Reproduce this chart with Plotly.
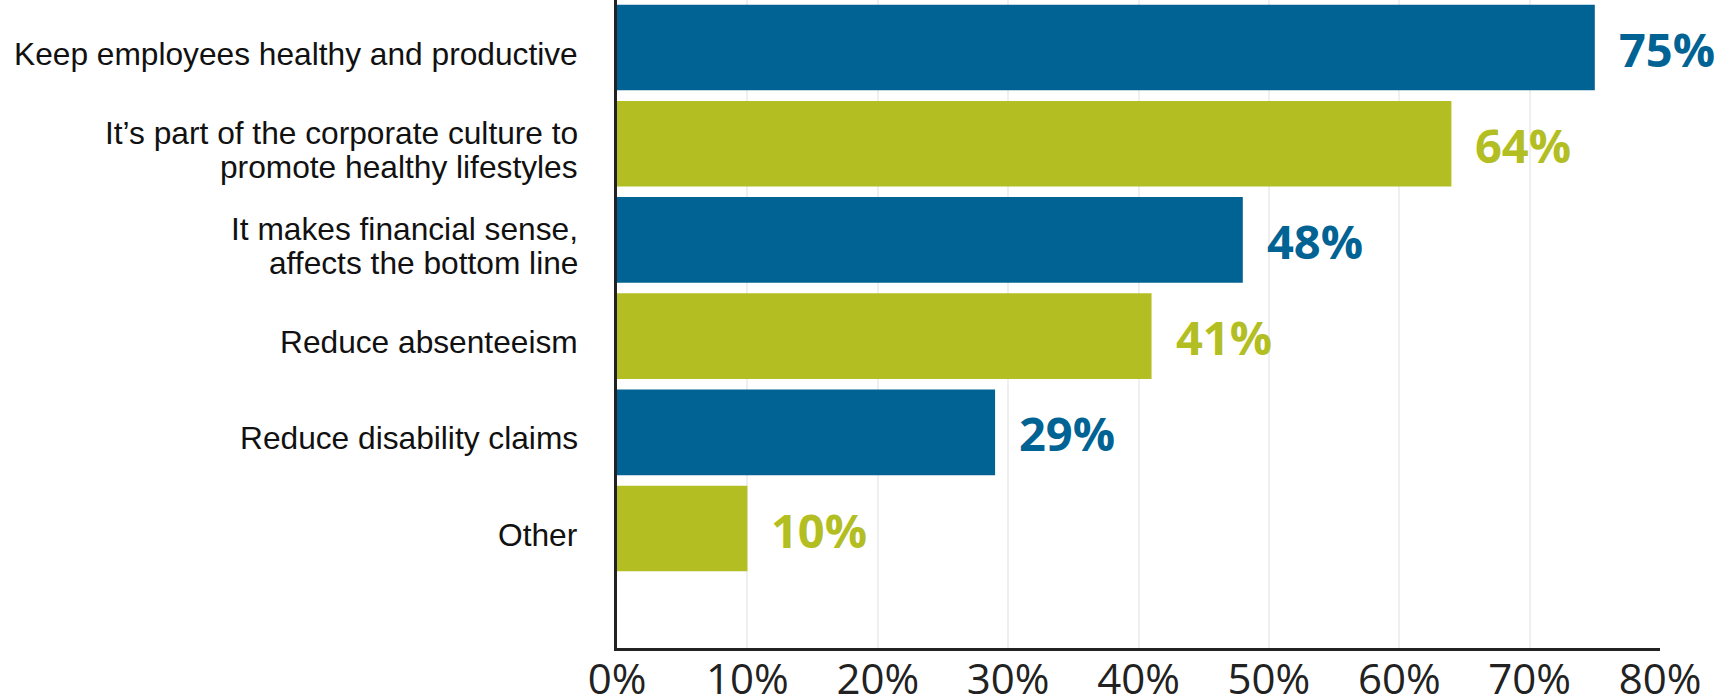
import plotly.graph_objects as go

# Survey responses: reasons for offering wellness programs
categories = [
    "Keep employees healthy and productive",
    "It’s part of the corporate culture to<br>promote healthy lifestyles",
    "It makes financial sense,<br>affects the bottom line",
    "Reduce absenteeism",
    "Reduce disability claims",
    "Other",
]
values = [75, 64, 48, 41, 29, 10]
x_ticks = [0, 10, 20, 30, 40, 50, 60, 70, 80]
x_tick_labels = ["0%", "10%", "20%", "30%", "40%", "50%", "60%", "70%", "80%"]

BLUE = "#006393"
GREEN = "#B2BE22"
bar_colors = [BLUE if i % 2 == 0 else GREEN for i in range(len(values))]

fig = go.Figure()
fig.add_trace(go.Bar(
    x=values,
    y=categories,
    orientation="h",
    marker=dict(color=bar_colors, line=dict(width=0)),
    width=0.89,
    hoverinfo="x+y",
))

annotations = []
# value labels to the right of each bar
for cat, val, col in zip(categories, values, bar_colors):
    annotations.append(dict(
        x=val, y=cat, xref="x", yref="y",
        text=f"{val}%", showarrow=False,
        xanchor="left", yanchor="middle", xshift=22, yshift=-1,
        font=dict(family="Open Sans", size=47, color=col, weight="bold"),
    ))

# category labels, one annotation per line for tighter leading
LINE_GAP = 34
for cat in categories:
    lines = cat.split("<br>")
    n = len(lines)
    for k, line in enumerate(lines):
        annotations.append(dict(
            x=0, y=cat, xref="paper", yref="y",
            text=line, showarrow=False,
            xanchor="right", yanchor="middle", xshift=-37,
            yshift=((n - 1) / 2 - k) * LINE_GAP - 6,
            font=dict(family="Liberation Sans, Arial", size=31.7, color="#111111"),
        ))

fig.update_layout(
    template="none",
    width=1731, height=700,
    margin=dict(l=617, r=71, t=0, b=52),
    paper_bgcolor="white", plot_bgcolor="white",
    showlegend=False,
    bargap=0.11,
    annotations=annotations,
    xaxis=dict(
        range=[0, 80],
        tickvals=x_ticks, ticktext=x_tick_labels,
        showgrid=True, gridcolor="#efefef", gridwidth=2,
        zeroline=False,
        showline=True, linecolor="#222222", linewidth=3,
        ticks="", ticklabelstandoff=-7,
        tickfont=dict(family="Open Sans", size=42, color="#222222"),
        automargin=False,
    ),
    yaxis=dict(
        type="category",
        categoryorder="array", categoryarray=categories,
        range=[6.242, -0.494],
        showticklabels=False, showgrid=False, zeroline=False,
        showline=True, linecolor="#222222", linewidth=3,
        ticks="",
        automargin=False,
    ),
)

fig.write_html("out.html")
